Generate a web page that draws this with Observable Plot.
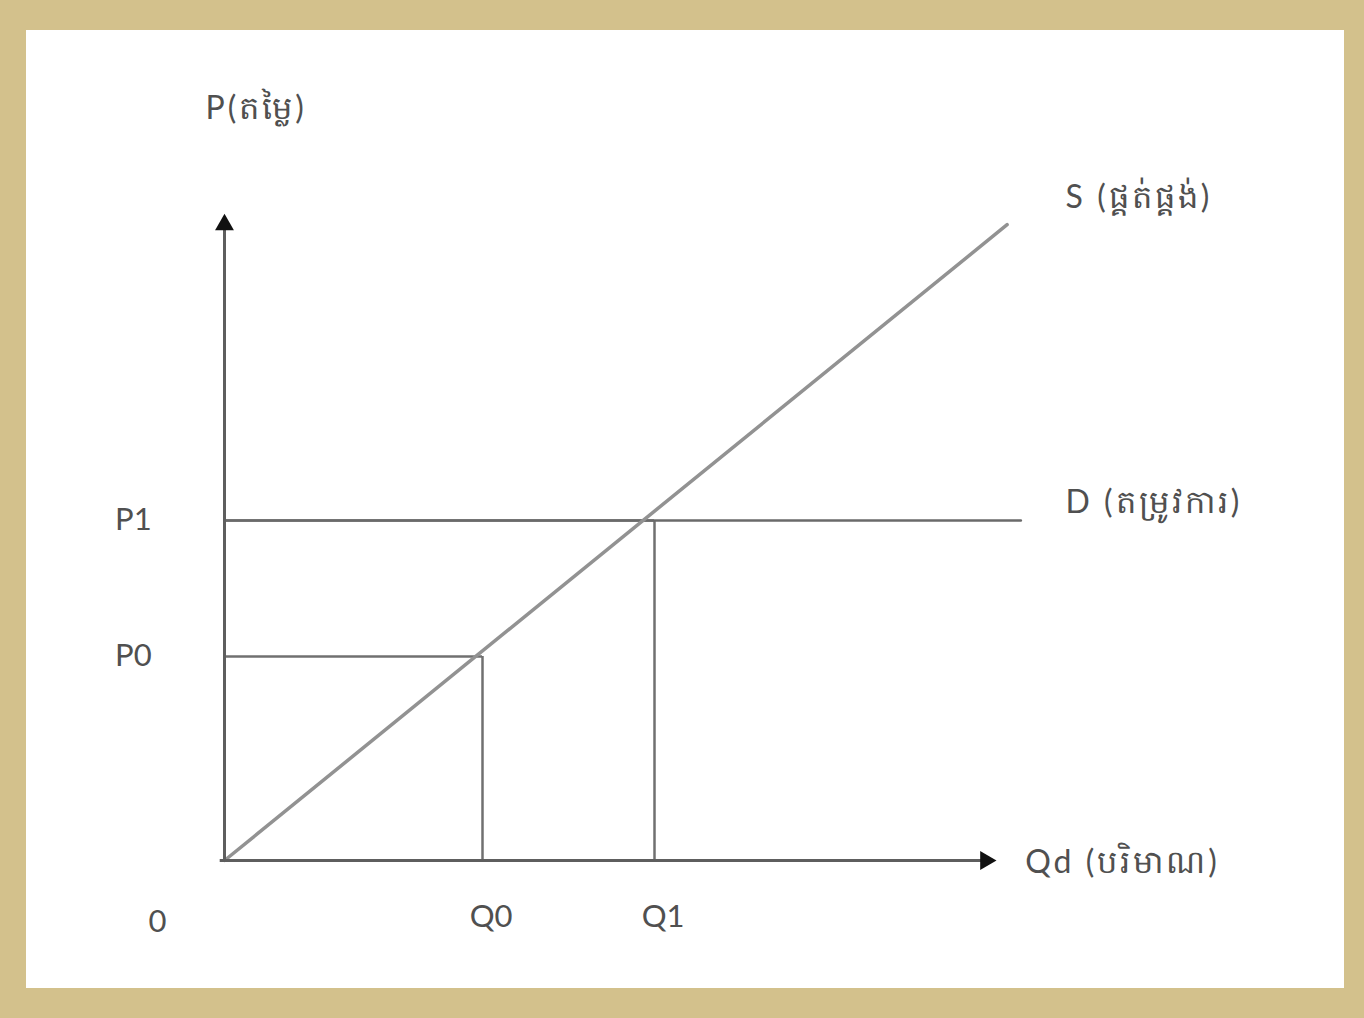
<!DOCTYPE html>
<html>
<head>
<meta charset="utf-8">
<script src="https://cdn.jsdelivr.net/npm/d3@7"></script>
<script src="https://cdn.jsdelivr.net/npm/@observablehq/plot@0.6"></script>
<style>
  html, body { margin: 0; padding: 0; }
  body { width: 1364px; height: 1018px; background: #d3c18c; position: relative; overflow: hidden; }
  #paper { position: absolute; left: 26px; top: 30px; width: 1318px; height: 958px; background: #ffffff; }
</style>
</head>
<body>
<div id="paper"></div>
<script>
// Quantity / price tick values and labels
const qValues = [3, 5];
const qLabels = ["Q0", "Q1"];
const pValues = [3, 5];
const pLabels = ["P0", "P1"];
const originLabel = "0";

// Supply curve points (quantity, price)
const supplyQ = [0, 9.1];
const supplyP = [0, 9.35];

// Demand (horizontal) line
const demandQ = [0, 9.26];
const demandP = [5, 5];

// Axis extents
const axisQmax = 8.85;
const axisPmax = 9.35;

// Curve labels (Khmer)
const priceLabel = "P(តម្លៃ)";
const supplyLabel = "S (ផ្គត់ផ្គង់)";
const demandLabel = "D (តម្រូវការ)";
const qtyLabel = "Qd (បរិមាណ)";

const supply = supplyQ.map((q, i) => ({q, p: supplyP[i]}));
const demand = demandQ.map((q, i) => ({q, p: demandP[i]}));
const ticks = qValues.map((q, i) => ({q, p: pValues[i], ql: qLabels[i], pl: pLabels[i]}));

const font = "Lato, 'Open Sans', sans-serif";
const textColor = "#505050";

const chart = Plot.plot({
  width: 1318,
  height: 958,
  margin: 0,
  style: {background: "transparent", fontFamily: font},
  x: {type: "linear", domain: [0, 10], range: [198, 1058], axis: null},
  y: {type: "linear", domain: [0, 10], range: [830, 150], axis: null},
  marks: [
    // guide lines from axes to equilibria
    Plot.ruleY(ticks, {y: "p", x1: 0, x2: "q", stroke: "#707070", strokeWidth: 2.5}),
    Plot.ruleX(ticks, {x: "q", y1: 0, y2: "p", stroke: "#707070", strokeWidth: 2.5}),
    // demand
    Plot.line(demand, {x: "q", y: "p", stroke: "#6a6a6a", strokeWidth: 2.5}),
    // supply
    Plot.line(supply, {x: "q", y: "p", stroke: "#929292", strokeWidth: 3.5}),
    // axes
    Plot.ruleX([0], {y1: 0, y2: axisPmax, stroke: "#5e5e5e", strokeWidth: 3}),
    Plot.ruleY([0], {x1: -0.05, x2: axisQmax, stroke: "#5e5e5e", strokeWidth: 3}),
    Plot.dot([{q: 0, p: axisPmax}], {x: "q", y: "p", symbol: "triangle", r: 7, fill: "#111", stroke: "none"}),
    Plot.dot([{q: axisQmax, p: 0}], {x: "q", y: "p", symbol: "triangle", rotate: 90, r: 7, fill: "#111", stroke: "none"}),
    // tick labels
    Plot.text(ticks, {x: -1.06, y: "p", text: "pl", fontSize: 31, fill: textColor}),
    Plot.text(ticks, {x: d => d.q + 0.1, y: -0.83, text: "ql", fontSize: 31, fill: textColor}),
    Plot.text([originLabel], {x: -0.78, y: -0.9, text: d => d, fontSize: 31, fill: textColor}),
    // curve and axis labels
    Plot.text([priceLabel], {x: -0.22, y: 11.06, text: d => d, textAnchor: "start", fontSize: 32, fill: textColor}),
    Plot.text([supplyLabel], {x: 9.78, y: 9.74, text: d => d, textAnchor: "start", fontSize: 32, fill: textColor}),
    Plot.text([demandLabel], {x: 9.78, y: 5.26, text: d => d, textAnchor: "start", fontSize: 32, fill: textColor}),
    Plot.text([qtyLabel], {x: 9.31, y: -0.03, text: d => d, textAnchor: "start", fontSize: 32, fill: textColor})
  ]
});
// widen the Khmer labels a little, as in the reference
d3.select(chart).selectAll("text")
  .filter(function() { return /[\u1780-\u17FF]/.test(this.textContent); })
  .style("letter-spacing", "3px");
document.getElementById("paper").appendChild(chart);
</script>
</body>
</html>
